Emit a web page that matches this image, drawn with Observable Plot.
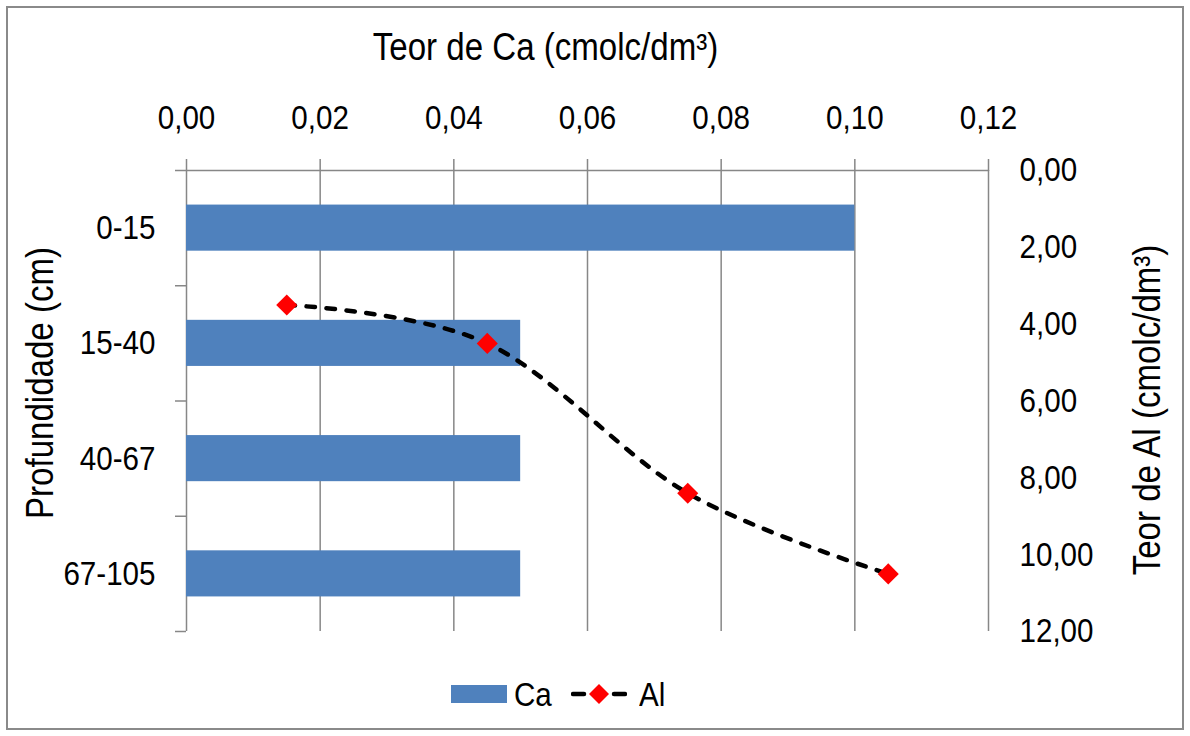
<!DOCTYPE html>
<html>
<head>
<meta charset="utf-8">
<script src="https://cdn.jsdelivr.net/npm/d3@7"></script>
<script src="https://cdn.jsdelivr.net/npm/@observablehq/plot@0.6"></script>
<style>
  html, body { margin: 0; padding: 0; background: #fff; }
  #chart { position: relative; width: 1190px; height: 736px; overflow: hidden;
           font-family: "Liberation Sans", Arial, sans-serif; }
  #frame { position: absolute; left: 6px; top: 6px; width: 1178px; height: 724px;
           box-sizing: border-box; border: 2px solid #8a8a8a; pointer-events: none; }
  #plot { position: absolute; left: 0; top: 0; }
  #legend { position: absolute; left: 0; top: 679px; width: 1190px; height: 30px; }
  #legend > * { position: absolute; }
  #legend .sw { left: 451px; top: 6px; width: 56px; height: 18px; background: #4F81BD; }
  #legend .lab { top: 0; font-size: 34px; line-height: 30px; color: #000;
                 transform: scaleX(0.87); transform-origin: 0 50%; }
</style>
</head>
<body>
<div id="chart">
  <div id="plot"></div>
  <div id="legend">
    <div class="sw"></div>
    <span class="lab" style="left:514px">Ca</span>
    <svg width="56" height="30" style="left:571px;top:0">
      <line x1="2" y1="15" x2="13" y2="15" stroke="#000" stroke-width="4.5" stroke-linecap="round"></line>
      <line x1="43" y1="15" x2="54" y2="15" stroke="#000" stroke-width="4.5" stroke-linecap="round"></line>
      <path d="M28,5L38,15L28,25L18,15Z" fill="#ff0000"></path>
    </svg>
    <span class="lab" style="left:639px">Al</span>
  </div>
  <div id="frame"></div>
</div>
<script>
// Depth layers (cm)
const depths = ["0-15", "15-40", "40-67", "67-105"];
// Calcium content per layer (cmolc/dm³), bars on the top axis
const ca = [0.10, 0.05, 0.05, 0.05];
// Aluminium content per layer (cmolc/dm³), line on the right axis
const al = [3.5, 4.5, 8.4, 10.5];
// Axis ticks
const caTicks = [0, 0.02, 0.04, 0.06, 0.08, 0.10, 0.12];
const alTicks = [0, 2, 4, 6, 8, 10, 12];

const rows = depths.map((depth, i) => ({depth, ca: ca[i], al: al[i]}));
const fmt = v => v.toFixed(2).replace(".", ",");

const caMax = caTicks[caTicks.length - 1];
const alMax = alTicks[alTicks.length - 1];

// Depth categories laid out down the vertical extent (bar bands, gap width 150%)
const yBand = d3.scaleBand(depths, [0, alMax]).paddingInner(0.6).paddingOuter(0.3);
const yStep = d3.scaleBand(depths, [0, alMax]);
// The Al series is spread across the horizontal extent, one slot per layer
const xBand = d3.scaleBand(depths, [0, caMax]);
const xMid = d => xBand(d.depth) + xBand.bandwidth() / 2;

const grey = "#878787";
const font = '"Liberation Sans", Arial, sans-serif';

const chart = Plot.plot({
  width: 1190,
  height: 680,
  marginTop: 170,
  marginBottom: 49,
  marginLeft: 186,
  marginRight: 202,
  style: {fontFamily: font, fontSize: "34px", color: "#000", background: "transparent"},
  x: {domain: [0, caMax], axis: null},
  y: {domain: [0, alMax], reverse: true, axis: null},
  marks: [
    Plot.gridX(caTicks, {stroke: grey, strokeOpacity: 1, strokeWidth: 1.5}),
    Plot.ruleY([0], {stroke: grey, strokeWidth: 1.5}),
    // top value axis (Ca)
    Plot.axisX(caTicks, {anchor: "top", label: null, tickSize: 12, tickPadding: 30, stroke: grey,
      strokeWidth: 1.5, tickFormat: fmt, fontSize: 34, fill: "#000"}),
    // left category boundaries
    Plot.axisY(depths.map(d => yStep(d)).concat([alMax]), {anchor: "left", label: null, tickSize: 11,
      stroke: grey, strokeWidth: 1.5, tickFormat: () => ""}),
    // right value axis (Al)
    Plot.axisY(alTicks, {anchor: "right", label: null, tickSize: 0, tickPadding: 31, textAnchor: "start",
      tickFormat: fmt, fontSize: 34, fill: "#000"}),
    // category labels
    Plot.text(depths, {x: 0, y: d => yStep(d) + yStep.bandwidth() / 2, text: d => d,
      textAnchor: "end", dx: -31, fontSize: 34, fill: "#000"}),
    // Ca bars
    Plot.rectX(rows, {x1: 0, x2: "ca", y1: d => yBand(d.depth), y2: d => yBand(d.depth) + yBand.bandwidth(),
      fill: "#4F81BD"}),
    // Al smoothed line and markers
    Plot.line(rows, {x: xMid, y: "al", curve: "cardinal", stroke: "#000", strokeWidth: 4.5,
      strokeDasharray: "8.5,11.5", strokeLinecap: "round"}),
    Plot.dot(rows, {x: xMid, y: "al", symbol: "diamond2", r: 9.5, fill: "#ff0000", stroke: "none"}),
    // axis titles
    Plot.text(["Teor de Ca (cmolc/dm³)"], {frameAnchor: "top", textAnchor: "middle", dx: -42, dy: -123,
      fontSize: 38, fill: "#000", lineAnchor: "middle"}),
    Plot.text(["Profundidade (cm)"], {frameAnchor: "left", textAnchor: "middle", dx: -146, dy: -18,
      rotate: -90, fontSize: 38, fill: "#000", lineAnchor: "middle"}),
    Plot.text(["Teor de Al (cmolc/dm³)"], {frameAnchor: "right", textAnchor: "middle", dx: 159, dy: 9,
      rotate: -90, fontSize: 38, fill: "#000", lineAnchor: "middle"})
  ]
});

document.getElementById("plot").appendChild(chart);

// Narrow the lettering (condensed sans style) while keeping each label's anchor
chart.querySelectorAll("text").forEach(t => {
  const w = t.getComputedTextLength();
  if (w > 0) {
    t.setAttribute("textLength", (w * 0.87).toFixed(1));
    t.setAttribute("lengthAdjust", "spacingAndGlyphs");
  }
});
</script>
</body>
</html>
